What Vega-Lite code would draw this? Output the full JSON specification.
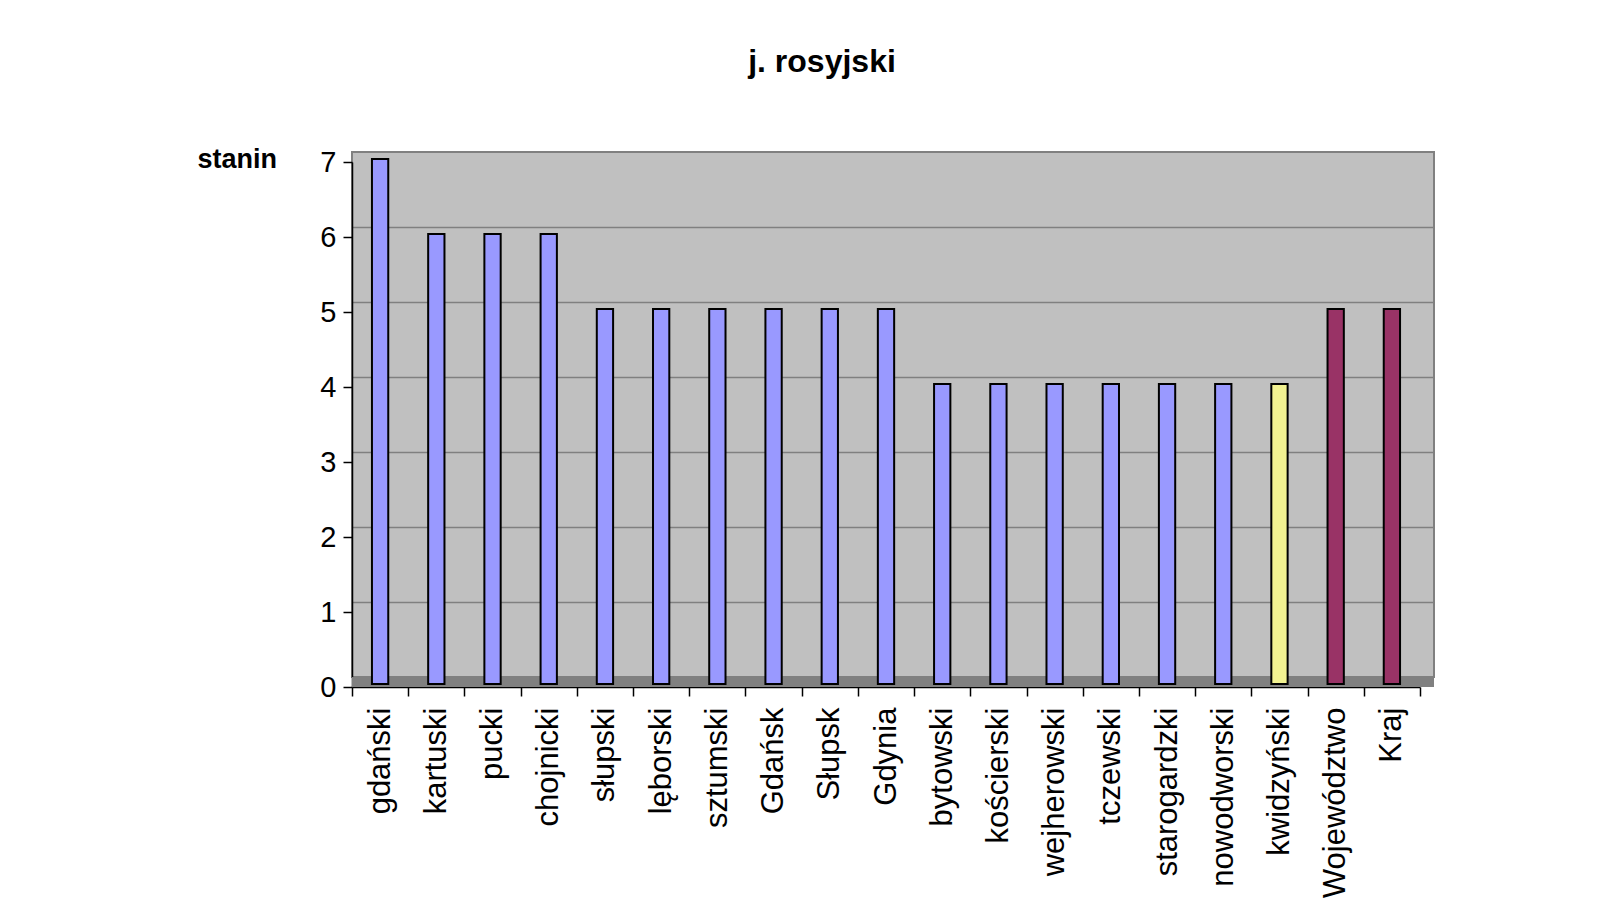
{
  "$schema": "https://vega.github.io/schema/vega-lite/v6.json",
  "autosize": "none",
  "padding": {"left": 352, "top": 152, "right": 184, "bottom": 243},
  "width": 1082,
  "height": 525,
  "background": "white",
  "title": {
    "text": "j. rosyjski",
    "font": "Liberation Sans",
    "fontSize": 32,
    "fontWeight": "bold",
    "color": "black",
    "anchor": "middle",
    "frame": "group",
    "dx": -71,
    "baseline": "alphabetic",
    "offset": 41
  },
  "config": {
    "view": {"fill": "#C0C0C0", "stroke": "#808080", "strokeWidth": 2},
    "font": "Liberation Sans"
  },
  "data": {
    "values": [
      {"name": "gdański", "value": 7, "group": "powiat"},
      {"name": "kartuski", "value": 6, "group": "powiat"},
      {"name": "pucki", "value": 6, "group": "powiat"},
      {"name": "chojnicki", "value": 6, "group": "powiat"},
      {"name": "słupski", "value": 5, "group": "powiat"},
      {"name": "lęborski", "value": 5, "group": "powiat"},
      {"name": "sztumski", "value": 5, "group": "powiat"},
      {"name": "Gdańsk", "value": 5, "group": "powiat"},
      {"name": "Słupsk", "value": 5, "group": "powiat"},
      {"name": "Gdynia", "value": 5, "group": "powiat"},
      {"name": "bytowski", "value": 4, "group": "powiat"},
      {"name": "kościerski", "value": 4, "group": "powiat"},
      {"name": "wejherowski", "value": 4, "group": "powiat"},
      {"name": "tczewski", "value": 4, "group": "powiat"},
      {"name": "starogardzki", "value": 4, "group": "powiat"},
      {"name": "nowodworski", "value": 4, "group": "powiat"},
      {"name": "kwidzyński", "value": 4, "group": "wyróżniony"},
      {"name": "Województwo", "value": 5, "group": "średnia"},
      {"name": "Kraj", "value": 5, "group": "średnia"}
    ]
  },
  "layer": [
    {
      "data": {"values": [{"floor": 0}]},
      "mark": {"type": "rect", "color": "#808080"},
      "encoding": {
        "y": {
          "datum": 0,
          "type": "quantitative",
          "scale": {"domain": [0, 7]},
          "axis": {
            "orient": "left",
            "grid": true,
            "gridColor": "#808080",
            "gridWidth": 1.5,
            "labels": false,
            "ticks": false,
            "domain": false,
            "title": null,
            "values": [1, 2, 3, 4, 5, 6]
          }
        },
        "y2": {"datum": -0.1333}
      }
    },
    {
      "mark": {"type": "bar", "stroke": "black", "strokeWidth": 2, "width": {"band": 0.29}, "yOffset": -3},
      "encoding": {
        "x": {
          "field": "name",
          "type": "nominal",
          "sort": null,
          "scale": {"range": [0, 1068], "paddingInner": 0, "paddingOuter": 0},
          "axis": {
            "title": null,
            "offset": 10,
            "domainColor": "black",
            "domainWidth": 1.5,
            "tickColor": "black",
            "tickWidth": 1.5,
            "tickSize": 9,
            "tickBand": "extent",
            "labelAngle": -90,
            "labelAlign": "right",
            "labelBaseline": "middle",
            "labelFontSize": 31,
            "labelColor": "black",
            "labelPadding": 11,
            "labelLimit": 400,
            "labelFont": "Liberation Sans"
          }
        },
        "y": {
          "field": "value",
          "type": "quantitative",
          "scale": {"domain": [0, 7], "range": [535, 10]},
          "axis": {
            "orient": "left",
            "grid": false,
            "values": [0, 1, 2, 3, 4, 5, 6, 7],
            "domainColor": "black",
            "domainWidth": 1.5,
            "tickColor": "black",
            "tickWidth": 1.5,
            "tickSize": 9,
            "labelFontSize": 29,
            "labelColor": "black",
            "labelPadding": 7,
            "labelFont": "Liberation Sans",
            "title": "stanin",
            "titleAngle": 0,
            "titleFont": "Liberation Sans",
            "titleFontSize": 27,
            "titleFontWeight": "bold",
            "titleColor": "black",
            "titleAlign": "left",
            "titleBaseline": "alphabetic",
            "titleX": -155,
            "titleY": 15
          }
        },
        "color": {
          "field": "group",
          "type": "nominal",
          "scale": {"domain": ["powiat", "wyróżniony", "średnia"], "range": ["#9999FF", "#F2F291", "#993366"]},
          "legend": null
        }
      }
    }
  ],
  "resolve": {"scale": {"y": "independent"}, "axis": {"y": "independent"}}
}
